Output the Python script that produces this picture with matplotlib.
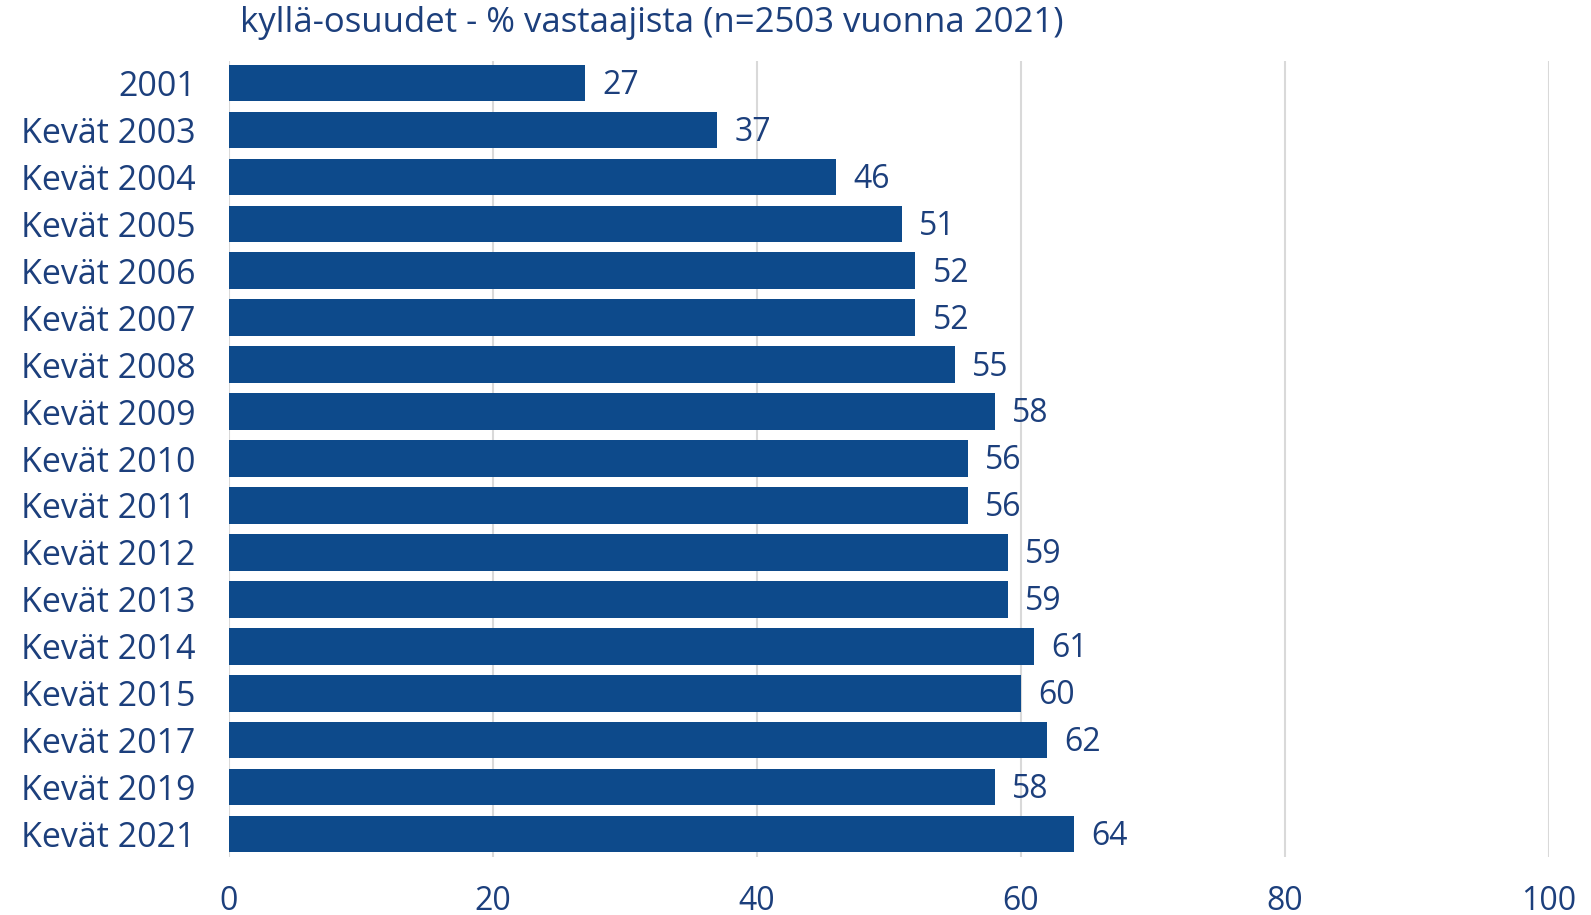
import matplotlib.pyplot as plt

# data
categories = ["2001", "Kevät 2003", "Kevät 2004", "Kevät 2005", "Kevät 2006",
              "Kevät 2007", "Kevät 2008", "Kevät 2009", "Kevät 2010", "Kevät 2011",
              "Kevät 2012", "Kevät 2013", "Kevät 2014", "Kevät 2015", "Kevät 2017",
              "Kevät 2019", "Kevät 2021"]
values = [27, 37, 46, 51, 52, 52, 55, 58, 56, 56, 59, 59, 61, 60, 62, 58, 64]
xticks = [0, 20, 40, 60, 80, 100]
title = "kyllä-osuudet - % vastaajista (n=2503 vuonna 2021)"

bar_color = "#0d4a8b"
text_color = "#1c3f7c"

plt.rcParams['font.family'] = ['Open Sans', 'DejaVu Sans']

fig = plt.figure(figsize=(15.91, 9.15), dpi=100)
ax = fig.add_axes([229/1591, 1 - 857/915, (1549 - 229)/1591, (857 - 61)/915])

ypos = list(range(len(categories)))
ax.barh(ypos, values, height=0.78, color=bar_color, zorder=3)

for y, v in zip(ypos, values):
    ax.text(v + 1.3, y + 0.05, str(v), va="center", ha="left",
            fontsize=23, color=text_color)

ax.set_xlim(0, 100)
ax.set_ylim(16.49, -0.47)
ax.set_xticks(xticks)
ax.set_xticklabels([str(t) for t in xticks])
ax.set_yticks(ypos)
ax.set_yticklabels(categories)

ax.grid(axis="x", color="#d9d9d9", linewidth=1.5, zorder=0)
for s in ax.spines.values():
    s.set_visible(False)

ax.tick_params(axis="x", length=0, labelsize=23, labelcolor=text_color, pad=20)
ax.tick_params(axis="y", length=0, labelsize=24.5, labelcolor=text_color, pad=24)

fig.text(240/1591, 1 - 23/915, title, ha="left", va="center",
         fontsize=25, color=text_color)

fig.savefig("out.png", dpi=100)
